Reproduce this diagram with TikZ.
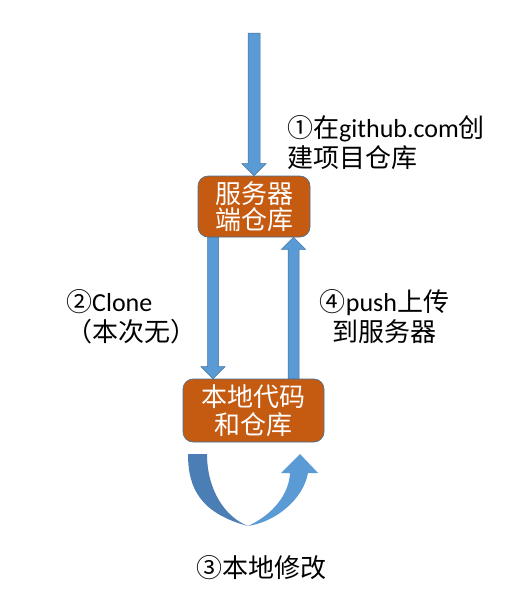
\documentclass[tikz,border=0pt]{standalone}
\usepackage{fontspec}
\setmainfont{Carlito}
\newfontfamily\zh{Noto Sans CJK SC}
\usetikzlibrary{calc}
\definecolor{abl}{HTML}{5B9BD5}
\definecolor{abd}{HTML}{41719C}
\definecolor{adk}{HTML}{4A7EB5}
\definecolor{org}{HTML}{C55A11}
\tikzset{
 box/.style={draw=abd, line width=0.6pt, fill=org, rounded corners=10pt, text=white, font=\zh\fontsize{26}{26}\selectfont, align=center, inner sep=0pt},
 lbl/.style={font=\fontsize{26}{30}\selectfont, text=black, inner sep=0pt},
 barrow/.style={fill=abl, draw=abd, line width=0.5pt},
}
% block arrow pointing down: #1 start (top), #2 tip, #3 half shaft width
\newcommand\blkdown[3]{%
 \path[barrow] let \p1=#1, \p2=#2 in (\x1-#3,\y1) -- (\x1-#3,\y2+12pt) -- (\x1-12pt,\y2+12pt) -- (\x1,\y2) -- (\x1+12pt,\y2+12pt) -- (\x1+#3,\y2+12pt) -- (\x1+#3,\y1) -- cycle;}
% block arrow pointing up: #1 start (bottom), #2 tip
\newcommand\blkup[3]{%
 \path[barrow] let \p1=#1, \p2=#2 in (\x1-#3,\y1) -- (\x1-#3,\y2-12pt) -- (\x1-12pt,\y2-12pt) -- (\x1,\y2) -- (\x1+12pt,\y2-12pt) -- (\x1+#3,\y2-12pt) -- (\x1+#3,\y1) -- cycle;}
\begin{document}
\begin{tikzpicture}[x=1pt,y=1pt]
\fill[white] (0,0) rectangle (529,-605);
\useasboundingbox (0,0) rectangle (529,-605);

\node[box, minimum width=112pt, minimum height=61pt] (srv) at (254,-206.5) {服务器\\端仓库};
\node[box, minimum width=141pt, minimum height=63pt, font=\zh\fontsize{26}{28}\selectfont] (loc) at (253.5,-410.5) {本地代码\\和仓库};
\coordinate (top) at (254,-33);

\blkdown{(top)}{(srv.north)}{6pt}
\blkdown{([xshift=-41pt]srv.south)}{([xshift=-40.5pt]loc.north)}{5.5pt}
\blkup{([xshift=40pt]loc.north)}{([xshift=39.5pt]srv.south)}{5.5pt}

% curved arrow (local modification)
\fill[adk] (188,-454) .. controls (188,-488) and (200,-513) .. (248,-526) .. controls (225,-517) and (207,-490) .. (207,-454) -- cycle;
\fill[abl] (248,-526) .. controls (275,-522) and (303,-500) .. (308,-473) -- (318,-473) -- (300,-454) -- (281,-473) -- (290,-473) .. controls (289,-495) and (272,-515) .. (248,-526) -- cycle;

\node[lbl, anchor=west, align=left] (l1) at (287,-142.5) {{\zh ①在}github.com{\zh 创}\\{\zh 建项目仓库}};
\node[lbl, anchor=west, align=left] (l2) at (66,-317) {{\zh ②}Clone\\{\zh （本次无）}};
\node[lbl, align=center] (l4) at (384.5,-317) {{\zh ④}push{\zh 上传}\\{\zh 到服务器}};
\node[lbl] (l3) at (261.5,-568) {\zh ③本地修改};
\end{tikzpicture}
\end{document}
